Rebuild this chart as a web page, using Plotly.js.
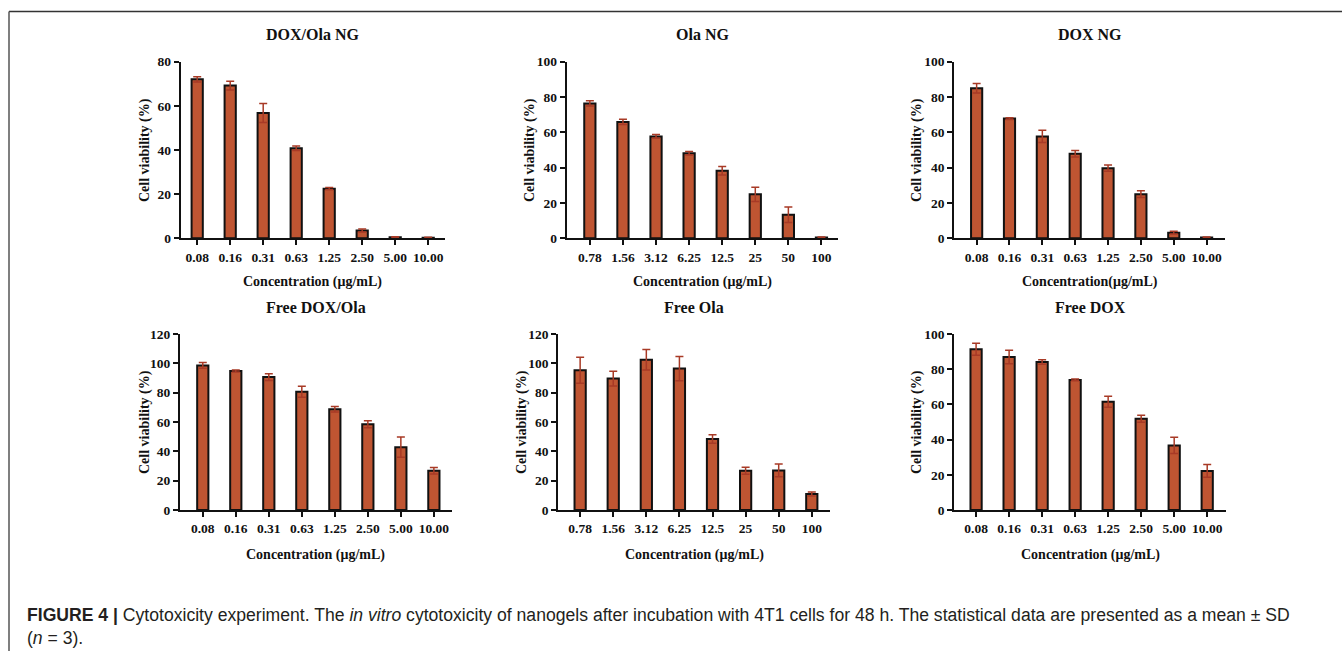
<!DOCTYPE html>
<html>
<head>
<meta charset="utf-8">
<script src="https://cdn.plot.ly/plotly-3.0.1.min.js"></script>
<style>html,body{margin:0;padding:0;background:#fff;}#chart{width:1342px;height:651px;}</style>
</head>
<body>
<div id="chart"></div>
<script>
// Categories (tick labels)
const concDOX = ["0.08","0.16","0.31","0.63","1.25","2.50","5.00","10.00"];
const concOla = ["0.78","1.56","3.12","6.25","12.5","25","50","100"];

// Series values (mean cell viability, %) and SD
const doxOlaNG     = [72.0, 69.2, 56.8, 40.8, 22.5, 3.5, 0.5, 0.3];
const doxOlaNGsd   = [1.2, 2.0, 4.3, 1.0, 0.5, 0.7, 0.2, 0.2];
const olaNG        = [76.4, 65.9, 57.7, 48.1, 38.3, 24.9, 13.3, 0.5];
const olaNGsd      = [1.5, 1.5, 1.1, 1.0, 2.4, 4.0, 4.4, 0.2];
const doxNG        = [85.0, 67.8, 57.7, 47.9, 39.7, 25.0, 3.2, 0.5];
const doxNGsd      = [2.7, 0.5, 3.5, 1.8, 1.8, 1.9, 0.8, 0.2];
const freeDoxOla   = [98.6, 94.8, 90.6, 80.6, 68.7, 58.5, 42.8, 26.8];
const freeDoxOlaSd = [1.9, 0.7, 2.3, 3.8, 1.9, 2.4, 6.9, 2.2];
const freeOla      = [95.3, 89.6, 102.5, 96.4, 48.4, 26.8, 27.0, 10.9];
const freeOlaSd    = [8.8, 5.0, 7.0, 8.2, 2.9, 2.4, 4.3, 1.3];
const freeDox      = [91.3, 86.9, 84.1, 73.9, 61.5, 51.9, 36.7, 22.2];
const freeDoxSd    = [3.4, 3.8, 1.3, 0.5, 3.1, 2.0, 4.6, 3.6];

const panelTitles = ["DOX/Ola NG","Ola NG","DOX NG","Free DOX/Ola","Free Ola","Free DOX"];
const xTitles = ["Concentration (μg/mL)","Concentration (μg/mL)","Concentration(μg/mL)",
                 "Concentration (μg/mL)","Concentration (μg/mL)","Concentration (μg/mL)"];
const yTitle = "Cell viability (%)";

const W = 1342, H = 651;
const px = v => v / W;
const py = v => 1 - v / H;

const panels = [
  {cats: concDOX, y: doxOlaNG,   sd: doxOlaNGsd,   ymax: 80,  x0: 180.7, x1: 444.7, top: 61.7, bot: 238.3, xr: [-0.5, 7.5],   ytx: 145},
  {cats: concOla, y: olaNG,      sd: olaNGsd,      ymax: 100, x0: 566.7, x1: 838.0, top: 61.7, bot: 238.3, xr: [-0.7, 7.5],   ytx: 530},
  {cats: concDOX, y: doxNG,      sd: doxNGsd,      ymax: 100, x0: 954.3, x1: 1225.0, top: 61.7, bot: 238.3, xr: [-0.68, 7.56], ytx: 917},
  {cats: concDOX, y: freeDoxOla, sd: freeDoxOlaSd, ymax: 120, x0: 180.0, x1: 451.7, top: 334, bot: 510, xr: [-0.69, 7.54], ytx: 145},
  {cats: concOla, y: freeOla,    sd: freeOlaSd,    ymax: 120, x0: 558.3, x1: 830.0, top: 334, bot: 510, xr: [-0.66, 7.55], ytx: 522},
  {cats: concDOX, y: freeDox,    sd: freeDoxSd,    ymax: 100, x0: 954.3, x1: 1225.7, top: 334, bot: 510, xr: [-0.66, 7.56], ytx: 917}
];

const font = "Liberation Serif, Times New Roman, serif";
const traces = [];
const layout = {
  width: W, height: H,
  margin: {l: 0, r: 0, t: 0, b: 0},
  paper_bgcolor: "#ffffff", plot_bgcolor: "rgba(0,0,0,0)",
  showlegend: false,
  font: {family: font, color: "#000"},
  annotations: [], shapes: []
};

panels.forEach((p, i) => {
  const n = i + 1;
  const xa = n === 1 ? "x" : "x" + n;
  const ya = n === 1 ? "y" : "y" + n;
  traces.push({
    type: "bar", x: p.cats, y: p.y, xaxis: xa, yaxis: ya,
    width: 0.34,
    marker: {color: "#BF5532", line: {color: "#111111", width: 2}},
    error_y: {type: "data", array: p.sd, visible: true, color: "#A83A26", thickness: 1.5, width: 4},
    hoverinfo: "x+y"
  });
  layout["xaxis" + (n === 1 ? "" : n)] = {
    domain: [px(p.x0), px(p.x1)], anchor: ya, type: "category",
    categoryorder: "array", categoryarray: p.cats,
    range: p.xr, showline: true, linewidth: 2, linecolor: "#111",
    ticks: "outside", ticklen: 5, tickwidth: 2, tickcolor: "#111",
    showgrid: false, zeroline: false, fixedrange: true,
    tickfont: {family: font, size: 13.5, color: "#111", weight: "bold"}
  };
  layout["yaxis" + (n === 1 ? "" : n)] = {
    domain: [py(p.bot), py(p.top)], anchor: xa,
    range: [0, p.ymax], dtick: 20, showline: true, linewidth: 2, linecolor: "#111",
    ticks: "outside", ticklen: 5, tickwidth: 2, tickcolor: "#111",
    showgrid: false, zeroline: false, fixedrange: true,
    tickfont: {family: font, size: 13.5, color: "#111", weight: "bold"}
  };
  const cx = (p.x0 + p.x1) / 2;
  const rowTop = p.top < 100;
  layout.annotations.push({
    xref: "paper", yref: "paper", x: px(cx), y: py(rowTop ? 35 : 307),
    xanchor: "center", yanchor: "middle", showarrow: false,
    text: "<b>" + panelTitles[i] + "</b>", font: {family: font, size: 16, color: "#111"}
  });
  layout.annotations.push({
    xref: "paper", yref: "paper", x: px(cx), y: py(rowTop ? 282 : 555),
    xanchor: "center", yanchor: "middle", showarrow: false,
    text: "<b>" + xTitles[i] + "</b>", font: {family: font, size: 14, color: "#111"}
  });
  layout.annotations.push({
    xref: "paper", yref: "paper", x: px(p.ytx), y: py((p.top + p.bot) / 2),
    xanchor: "center", yanchor: "middle", showarrow: false, textangle: -90,
    text: "<b>" + yTitle + "</b>", font: {family: font, size: 14, color: "#111"}
  });
});

// Caption
layout.annotations.push({
  xref: "paper", yref: "paper", x: px(25), y: py(626.5),
  xanchor: "left", yanchor: "middle", align: "left", showarrow: false,
  text: "<b>FIGURE 4 |</b> Cytotoxicity experiment. The <i>in vitro</i> cytotoxicity of nanogels after incubation with 4T1 cells for 48 h. The statistical data are presented as a mean ± SD<br>(<i>n</i> = 3).",
  font: {family: "Liberation Sans, Arial, sans-serif", size: 17.6, color: "#231f20"}
});

// Figure frame (top and left rules)
layout.shapes.push({type: "line", xref: "paper", yref: "paper", x0: px(9), x1: 1, y0: py(11.5), y1: py(11.5), line: {color: "#333", width: 1.5}});
layout.shapes.push({type: "line", xref: "paper", yref: "paper", x0: px(9), x1: px(9), y0: py(11.5), y1: 0, line: {color: "#555", width: 1.5}});

Plotly.newPlot("chart", traces, layout, {displayModeBar: false, staticPlot: true});
</script>
</body>
</html>
